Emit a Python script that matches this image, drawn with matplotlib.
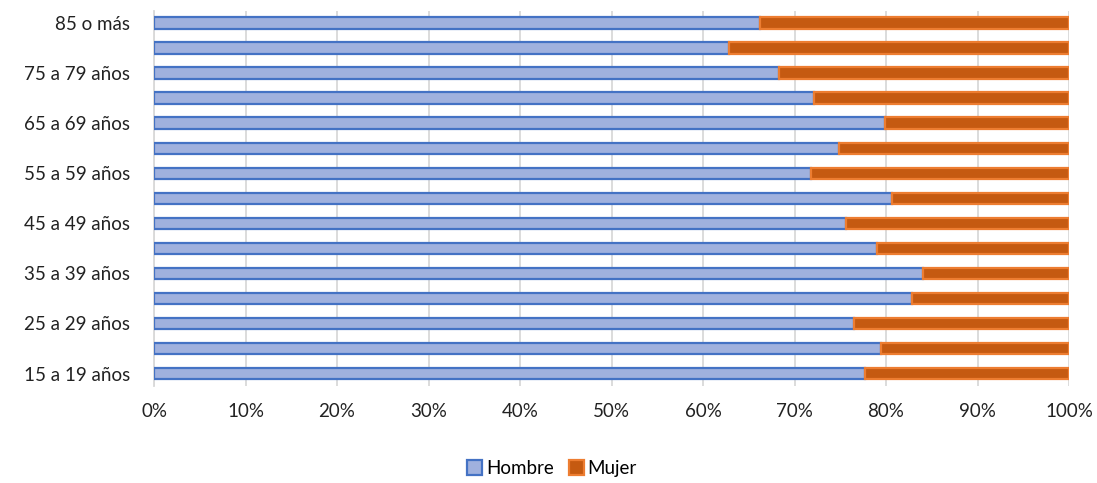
import matplotlib.pyplot as plt
from matplotlib.ticker import PercentFormatter

plt.rcParams["font.family"] = ["Lato", "DejaVu Sans"]

grupos = ["15 a 19 años", "20 a 24 años", "25 a 29 años", "30 a 34 años",
          "35 a 39 años", "40 a 44 años", "45 a 49 años", "50 a 54 años",
          "55 a 59 años", "60 a 64 años", "65 a 69 años", "70 a 74 años",
          "75 a 79 años", "80 a 84 años", "85 o más"]
hombre = [77.7, 79.5, 76.5, 82.8, 84.0, 79.0, 75.6, 80.7,
          71.8, 74.9, 79.9, 72.1, 68.3, 62.8, 66.2]
mujer = [100 - h for h in hombre]

fig = plt.figure(figsize=(10.97, 4.83), dpi=100)
ax = fig.add_axes([0.1404, 0.2008, 0.8341, 0.7772])

y = range(len(grupos))
ax.barh(y, hombre, height=0.46, color="#A0B1DE", edgecolor="#4472C4",
        linewidth=1.6, label="Hombre", zorder=3)
ax.barh(y, mujer, left=hombre, height=0.46, color="#C55A11",
        edgecolor="#ED7D31", linewidth=1.6, label="Mujer", zorder=3)

ax.set_xlim(0, 100)
ax.set_ylim(-0.5, len(grupos) - 0.5)
ax.set_xticks(range(0, 101, 10))
ax.xaxis.set_major_formatter(PercentFormatter(decimals=0))
ax.set_yticks(list(y))
ax.set_yticklabels([g if i % 2 == 0 else "" for i, g in enumerate(grupos)])
ax.tick_params(length=0, labelsize=13.5, colors="#222222")
ax.tick_params(axis="y", pad=17)
ax.tick_params(axis="x", pad=12)
ax.grid(axis="x", color="#D9D9D9", linewidth=1.3, zorder=0)
for s in ["top", "right", "bottom"]:
    ax.spines[s].set_visible(False)
ax.spines["left"].set_color("#D9D9D9")
ax.spines["left"].set_linewidth(1.3)

fig.legend(loc="center", bbox_to_anchor=(0.503, 0.03), ncol=2, frameon=False,
           fontsize=13.5, handlelength=0.8, handleheight=0.8,
           handletextpad=0.2, columnspacing=0.8)

fig.savefig("out.png", dpi=100)
